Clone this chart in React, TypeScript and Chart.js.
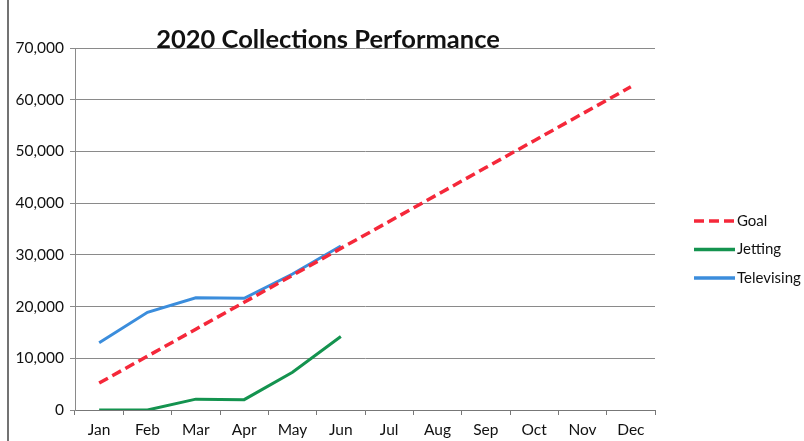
import React, { useEffect, useRef } from "react";
import { Chart, registerables } from "chart.js";

Chart.register(...registerables);

const months = ["Jan", "Feb", "Mar", "Apr", "May", "Jun", "Jul", "Aug", "Sep", "Oct", "Nov", "Dec"];
const goal = [5208, 10417, 15625, 20833, 26042, 31250, 36458, 41667, 46875, 52083, 57292, 62500];
const jetting = [0, 0, 2100, 2000, 7300, 14200, null, null, null, null, null, null];
const televising = [13000, 18900, 21700, 21600, 26300, 31700, null, null, null, null, null, null];
const titleText = "2020 Collections Performance";

const FONT = "Lato, 'Open Sans', sans-serif";

const overlay = {
  id: "overlay",
  afterDraw(chart: any) {
    const ctx = chart.ctx;
    ctx.save();
    // title
    ctx.fillStyle = "#111";
    ctx.font = `bold 25.5px ${FONT}`;
    ctx.textAlign = "center";
    ctx.textBaseline = "alphabetic";
    ctx.fillText(titleText, 328, 48);
    // legend
    const items = [
      { label: "Goal", color: "#f5283a", dash: [10, 5] },
      { label: "Jetting", color: "#14934f", dash: [] },
      { label: "Televising", color: "#3b8ddc", dash: [] },
    ];
    items.forEach((it, i) => {
      const y = 221 + i * 28.5;
      ctx.strokeStyle = it.color;
      ctx.lineWidth = 3.5;
      ctx.setLineDash(it.dash);
      ctx.beginPath();
      ctx.moveTo(694, y);
      ctx.lineTo(735, y);
      ctx.stroke();
      ctx.setLineDash([]);
      ctx.fillStyle = "#111";
      ctx.font = `15px ${FONT}`;
      ctx.textAlign = "left";
      ctx.textBaseline = "middle";
      ctx.fillText(it.label, 737, y);
    });
    // scan border on left
    ctx.strokeStyle = "#444";
    ctx.lineWidth = 1.5;
    ctx.beginPath();
    ctx.moveTo(8, 0);
    ctx.lineTo(8, 441);
    ctx.stroke();
    ctx.restore();
  },
};

export default function App() {
  const ref = useRef<HTMLCanvasElement | null>(null);
  useEffect(() => {
    if (!ref.current) return;
    const chart = new Chart(ref.current, {
      type: "line",
      data: {
        labels: months,
        datasets: [
          {
            label: "Goal",
            data: goal,
            borderColor: "#f5283a",
            borderWidth: 3.5,
            borderDash: [10, 5],
            pointRadius: 0,
            tension: 0,
          },
          {
            label: "Jetting",
            data: jetting,
            borderColor: "#14934f",
            borderWidth: 3,
            pointRadius: 0,
            tension: 0,
          },
          {
            label: "Televising",
            data: televising,
            borderColor: "#3b8ddc",
            borderWidth: 3,
            pointRadius: 0,
            tension: 0,
          },
        ],
      },
      options: {
        animation: false,
        responsive: false,
        maintainAspectRatio: false,
        layout: { padding: { left: 0, top: 48, right: 149, bottom: 0 } },
        plugins: { legend: { display: false }, title: { display: false }, tooltip: { enabled: false } },
        scales: {
          x: {
            offset: true,
            afterFit(scale: any) {
              scale.height = 31;
            },
            grid: {
              offset: true,
              drawOnChartArea: false,
              drawTicks: true,
              tickLength: 5,
              color: "#777",
            },
            border: { display: true, color: "#777", width: 1 },
            ticks: { color: "#111", font: { family: FONT, size: 15.5 }, padding: 6, maxRotation: 0, autoSkip: false },
          },
          y: {
            min: 0,
            max: 70000,
            afterFit(scale: any) {
              scale.width = 75;
            },
            grid: { color: "#8a8a8a", lineWidth: 1, drawTicks: true, tickLength: 5 },
            border: { display: true, color: "#8a8a8a" },
            ticks: {
              stepSize: 10000,
              color: "#111",
              padding: 6,
              font: { family: FONT, size: 15.5 },
              callback: (v: any) => Number(v).toLocaleString("en-US"),
            },
          },
        },
      },
      plugins: [overlay],
    });
    return () => chart.destroy();
  }, []);
  return (
    <div style={{ position: "absolute", left: 0, top: 0, width: 804, height: 441, background: "#fff" }}>
      <canvas ref={ref} width={804} height={441} style={{ width: 804, height: 441 }} />
    </div>
  );
}
